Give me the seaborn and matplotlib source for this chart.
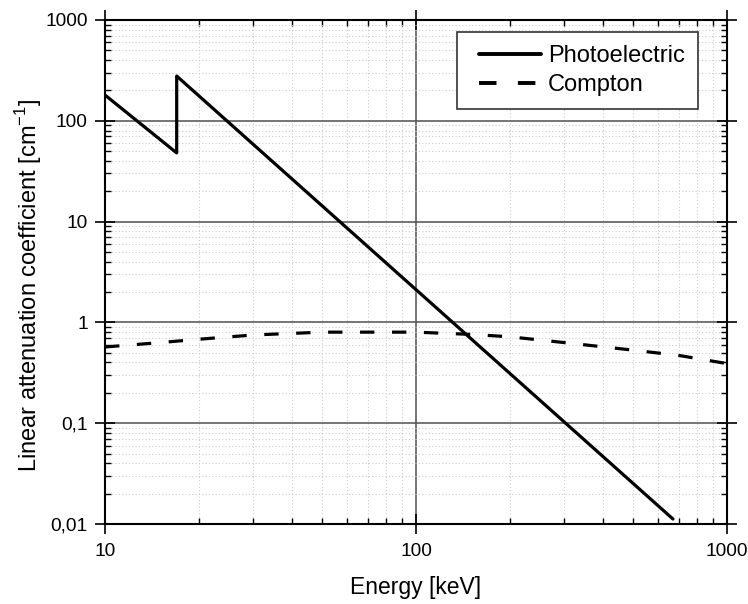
import matplotlib
matplotlib.use("Agg")
import matplotlib.pyplot as plt
import matplotlib.ticker as mticker
from matplotlib.legend_handler import HandlerLine2D
import seaborn as sns
import pandas as pd
import numpy as np

# ---- data ----
photo_energy = [10, 17, 17, 670]
photo_mu = [180, 48, 278, 0.0112]
compton_energy = [10, 15, 20, 30, 50, 100, 150, 200, 300, 500, 700, 1000]
compton_mu = [0.57, 0.63, 0.68, 0.75, 0.80, 0.80, 0.76, 0.72, 0.63, 0.53, 0.47, 0.39]
xtick_values = [10, 100, 1000]
xtick_labels = ["10", "100", "1000"]
ytick_values = [0.01, 0.1, 1, 10, 100, 1000]
ytick_labels = ["0,01", "0,1", "1", "10", "100", "1000"]
series_names = ["Photoelectric", "Compton"]

df = pd.concat([
    pd.DataFrame({"E": photo_energy, "mu": photo_mu, "series": series_names[0]}),
    pd.DataFrame({"E": compton_energy, "mu": compton_mu, "series": series_names[1]}),
], ignore_index=True)

sns.set_theme(style="white")
plt.rcParams["font.family"] = ["Liberation Sans", "DejaVu Sans"]
plt.rcParams["text.color"] = "black"
plt.rcParams["axes.labelcolor"] = "black"
plt.rcParams["xtick.color"] = "black"
plt.rcParams["ytick.color"] = "black"

fig = plt.figure(figsize=(7.48, 6.04), dpi=100)
ax = fig.add_axes([0.1404, 0.1325, 0.972 - 0.1404, 0.9669 - 0.1325])

ax.set_xscale("log")
ax.set_yscale("log")
ax.set_xlim(10, 1000)
ax.set_ylim(0.01, 1000)

# grids
ax.grid(which="minor", color="#cccccc", linestyle=(0, (1, 2)), linewidth=0.8)
ax.grid(which="major", axis="both", color="#505050", linestyle="-", linewidth=1.1)
ax.set_axisbelow(True)

sns.lineplot(data=df, x="E", y="mu", hue="series", style="series",
             palette={"Photoelectric": "black", "Compton": "black"},
             dashes={"Photoelectric": "", "Compton": (4.5, 5.5)},
             estimator=None, sort=False, units="series", linewidth=2.3, ax=ax,
             legend=True)

ax.xaxis.set_major_locator(mticker.FixedLocator(xtick_values))
ax.xaxis.set_major_formatter(mticker.FixedFormatter(xtick_labels))
ax.xaxis.set_minor_locator(mticker.LogLocator(base=10, subs=np.arange(2, 10)))
ax.xaxis.set_minor_formatter(mticker.NullFormatter())
ax.yaxis.set_major_locator(mticker.FixedLocator(ytick_values))
ax.yaxis.set_major_formatter(mticker.FixedFormatter(ytick_labels))
ax.yaxis.set_minor_locator(mticker.LogLocator(base=10, subs=np.arange(2, 10)))
ax.yaxis.set_minor_formatter(mticker.NullFormatter())

ax.tick_params(which="both", top=True, right=True, bottom=True, left=True, color="black")
ax.tick_params(which="major", direction="inout", length=15, width=1.2, labelsize=13.8)
ax.tick_params(which="minor", direction="in", length=4, width=1.0)
ax.tick_params(axis="x", which="major", pad=6)
ax.tick_params(axis="y", which="major", pad=5)
for s in ax.spines.values():
    s.set_color("black")
    s.set_linewidth(1.5)

ax.set_xlabel("Energy [keV]", fontsize=16.5, labelpad=12)
ax.set_ylabel("Linear attenuation coefficient [cm$^{\\mathregular{-1}}$]", fontsize=17, labelpad=1)
ax.yaxis.label.set_y(0.474)


class LeftPadHandler(HandlerLine2D):
    """Line handle with extra blank space on its left side."""
    def get_xdata(self, legend, xdescent, ydescent, width, height, fontsize):
        left = 7.0
        right = 1.5
        xdata = np.array([-xdescent + left, -xdescent + width - right])
        return xdata, xdata


handles, labels = ax.get_legend_handles_labels()
leg = ax.legend(handles, labels, loc="upper right", bbox_to_anchor=(0.953, 0.976),
                borderaxespad=0, fontsize=17, frameon=True, fancybox=False,
                framealpha=1, edgecolor="#333333", handlelength=3.1,
                borderpad=0.55, labelspacing=0.3, handletextpad=0.22,
                handler_map={h: LeftPadHandler() for h in handles})
leg.get_frame().set_linewidth(1.2)
for line in leg.get_lines():
    line.set_linewidth(2.8)

fig.savefig("out.png", dpi=100, facecolor="white")
